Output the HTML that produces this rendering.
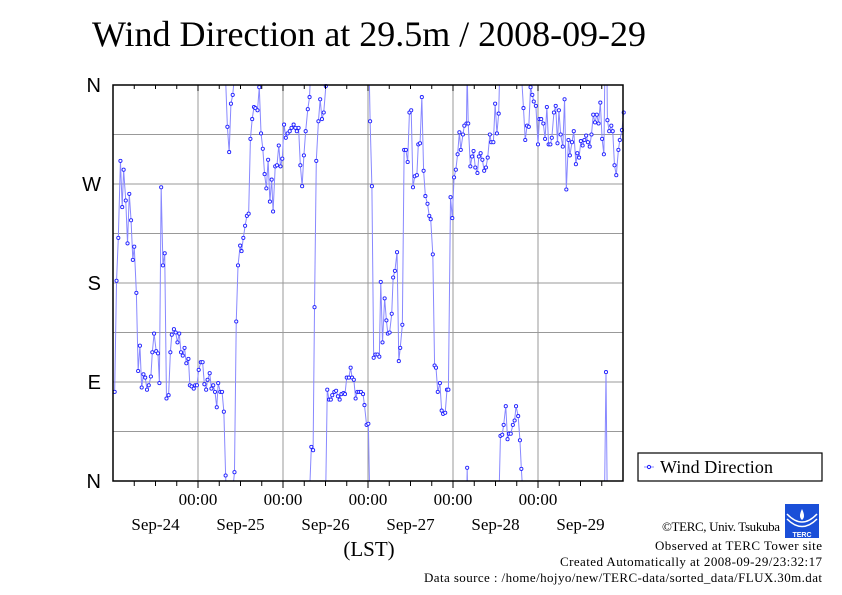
<!DOCTYPE html>
<html><head><meta charset="utf-8"><style>
body{margin:0;background:#fff;}
svg{display:block;}
.serif{font-family:"Liberation Serif",serif;}
.sans{font-family:"Liberation Sans",sans-serif;}
</style></head><body>
<svg id="chart" width="842" height="595" viewBox="0 0 842 595">
<text class="serif" x="92" y="46" font-size="36" textLength="554">Wind Direction at 29.5m / 2008-09-29</text>
<g id="grid"></g>
<g id="series"></g>
<rect x="113" y="85" width="510" height="396" fill="none" stroke="#000" stroke-width="1.5"/>
<g id="axes"></g>
<text class="serif" x="369" y="556" font-size="21" text-anchor="middle">(LST)</text>
<g>
<rect x="638" y="453" width="184" height="28" fill="#fff" stroke="#000" stroke-width="1.2"/>
<line x1="644" y1="467" x2="654" y2="467" stroke="#8888ff"/>
<circle cx="649" cy="467" r="1.6" fill="#fff" stroke="#2020ff"/>
<text class="serif" x="660" y="473" font-size="18" textLength="113">Wind Direction</text>
</g>
<g>
<rect x="785" y="504" width="34" height="34" fill="#1a4fd8"/>
<path d="M787 514 Q802 530 817 514" stroke="#fff" stroke-width="1.5" fill="none"/>
<path d="M787 519 Q802 534 817 519" stroke="#fff" stroke-width="1.5" fill="none"/>
<path d="M802 509 Q798 517 802 520 Q806 517 802 509Z" fill="#fff"/>
<text x="802" y="537" font-size="7" fill="#fff" text-anchor="middle" class="sans" font-weight="bold">TERC</text>
</g>
<g class="serif" font-size="13">
<text x="662" y="531" textLength="118">©TERC, Univ. Tsukuba</text>
<text x="655" y="550" textLength="167">Observed at TERC Tower site</text>
<text x="560" y="566" textLength="262">Created Automatically at 2008-09-29/23:32:17</text>
<text x="424" y="582" textLength="398">Data source : /home/hojyo/new/TERC-data/sorted_data/FLUX.30m.dat</text>
</g>
</svg>
<script>
const hours=[0.47,1.0,1.5,2.1,2.6,3.0,3.6,4.1,4.6,5.1,5.6,6.0,6.6,7.1,7.6,8.1,8.6,9.1,9.6,10.1,10.7,11.1,11.6,12.2,12.7,13.1,13.6,14.1,14.6,15.1,15.7,16.2,16.6,17.2,17.7,18.2,18.7,19.2,19.7,20.2,20.7,21.3,21.7,22.2,22.8,23.2,23.7,24.2,24.8,25.3,25.8,26.3,26.7,27.3,27.8,28.3,28.8,29.3,29.7,30.3,30.8,31.3,31.8,32.3,32.8,33.3,33.8,34.3,34.8,35.3,35.9,36.3,36.8,37.3,37.8,38.3,38.8,39.3,39.8,40.2,40.8,41.3,41.8,42.3,42.8,43.3,43.8,44.3,44.8,45.2,45.8,46.3,46.8,47.3,47.8,48.3,48.8,49.3,
49.9,50.4,51.0,51.5,51.9,52.4,52.9,53.4,53.9,54.4,55.0,55.5,56.0,56.5,56.9,57.4,58.0,58.5,59.0,59.5,60.1,60.5,61.0,61.5,61.9,62.5,63.0,63.5,64.0,64.5,65.1,65.5,66.0,66.6,67.1,67.5,68.0,68.5,69.0,69.5,70.0,70.6,71.0,71.6,72.1,72.6,73.1,73.6,74.1,74.7,75.2,75.6,76.1,76.7,77.2,77.6,78.1,78.7,79.1,79.6,80.2,80.7,81.1,81.7,82.2,82.7,83.2,83.7,84.2,84.7,85.2,85.8,86.2,86.7,87.2,87.7,88.2,88.8,89.3,89.7,90.3,90.8,91.2,91.7,92.3,92.8,93.2,93.8,94.3,94.7,95.3,95.8,96.3,96.8,97.3,97.8,
98.2,98.8,99.2,99.8,100.0,100.3,100.9,101.4,101.8,102.3,102.9,103.3,103.8,104.3,104.8,105.3,105.8,106.4,106.8,107.4,107.9,108.4,108.9,109.4,109.9,110.3,110.9,111.4,111.8,112.3,112.9,113.4,113.8,114.4,114.9,115.3,115.9,116.4,116.9,117.4,117.9,118.4,118.8,119.4,120.0,120.4,120.9,121.5,122.0,122.5,123.0,123.5,123.9,124.5,125.0,125.5,125.9,126.4,127.0,127.5,128.0,128.6,129.0,129.6,130.1,130.7,131.1,131.6,132.1,132.6,133.1,133.6,134.1,134.6,135.1,135.6,136.1,136.6,137.1,137.6,138.1,138.6,139.2,139.6,140.1,140.7,141.1,141.6,142.1,142.7,143.1,143.7,144.2];
const directions=[81,182,221,291,249,283,255,216,261,237,201,213,171,100,123,85,97,94,83,87,95,117,134,118,116,89,267,196,207,75,78,117,133,138,135,126,134,117,114,121,107,111,87,86,84,87,87,101,108,108,88,83,92,98,84,87,81,67,89,81,81,63,5,322,299,343,351,8,145,196,214,209,221,232,241,243,311,329,340,339,337,358,316,302,279,266,292,254,274,245,286,287,305,286,293,324,312,316,
318,321,324,321,318,321,287,268,296,318,338,349,31,28,158,291,327,347,329,335,359,83,74,74,78,81,82,77,74,79,80,79,94,94,103,94,92,75,81,81,81,79,69,51,52,327,268,112,115,115,113,181,126,166,146,134,135,152,185,191,208,109,121,142,301,301,290,335,337,267,277,278,306,307,349,282,259,252,241,238,206,105,103,81,89,64,61,62,83,83,258,239,276,283,297,317,
301,315,323,325,12,325,286,295,300,285,280,295,298,292,282,285,294,315,308,308,343,316,334,41,42,51,68,38,43,43,51,55,68,59,37,11,339,310,323,322,358,351,345,341,306,329,329,325,311,340,306,306,312,335,341,307,337,315,304,347,265,310,296,308,318,288,298,294,309,305,310,314,308,304,315,333,326,333,325,344,311,297,99,328,318,323,318,287,278,301,310,319,335];
const yLabels=["N","E","S","W","N"];
const dayLabels=["Sep-24","Sep-25","Sep-26","Sep-27","Sep-28","Sep-29"];
const X0=113,X1=623,Y0=481,Y1=85,HMAX=144;
const xs=h=>X0+(X1-X0)*h/HMAX;
const ys=d=>Y0-(Y0-Y1)*d/360;
const NS="http://www.w3.org/2000/svg";
function mk(tag,attrs,parent){const e=document.createElementNS(NS,tag);for(const k in attrs)e.setAttribute(k,attrs[k]);parent.appendChild(e);return e;}
const grid=document.getElementById('grid'),axes=document.getElementById('axes'),ser=document.getElementById('series');
for(let d=45;d<360;d+=45){const l=mk('line',{x1:X0,x2:X1,y1:ys(d),y2:ys(d),stroke:'#999','stroke-width':1},grid);

}
for(let i=0;i<yLabels.length;i++){const t=mk('text',{x:101,y:ys(i*90)+7,'font-size':20,'text-anchor':'end',class:'sans'},axes);t.textContent=yLabels[i];

}
for(let h=6;h<HMAX;h+=6){const x=xs(h);const major=h%24===0;
if(major){const g=mk('line',{x1:x,x2:x,y1:Y1,y2:Y0,stroke:'#999','stroke-width':1},grid);

}
mk('line',{x1:x,x2:x,y1:Y1,y2:Y1+(major?6:4),stroke:'#000'},axes);
mk('line',{x1:x,x2:x,y1:Y0,y2:Y0+(major?7:5),stroke:'#000'},axes);
if(major){const t=mk('text',{x:x,y:505,'font-size':17,'text-anchor':'middle',class:'serif'},axes);t.textContent='00:00';

}}
dayLabels.forEach((s,i)=>{const t=mk('text',{x:xs(i*24+12),y:530,'font-size':17,'text-anchor':'middle',class:'serif'},axes);t.textContent=s;

});
let path='';
for(let i=0;i<hours.length;i++){
 const x=xs(hours[i]),y=ys(directions[i]);
 if(i===0){path+=`M${x},${y}`;continue;}
 const a=directions[i-1],b=directions[i],xa=xs(hours[i-1]);
 if(b-a>180){const t=a/(a-(b-360));const xm=xa+(x-xa)*t;path+=`L${xm},${Y0}M${xm},${Y1}L${x},${y}`;}
 else if(a-b>180){const t=(360-a)/(b+360-a);const xm=xa+(x-xa)*t;path+=`L${xm},${Y1}M${xm},${Y0}L${x},${y}`;}
 else path+=`L${x},${y}`;
}
const p=mk('path',{d:path,fill:'none',stroke:'#8888ff','stroke-width':1},ser);


for(let i=0;i<hours.length;i++){const c=mk('circle',{cx:xs(hours[i]),cy:ys(directions[i]),r:1.6,fill:'#fff',stroke:'#2020ff','stroke-width':0.9},ser);

}
</script>
</body></html>
